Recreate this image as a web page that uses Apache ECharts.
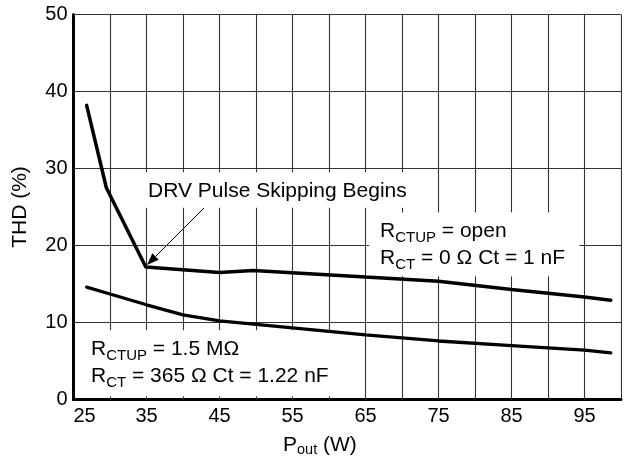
<!DOCTYPE html>
<html>
<head>
<meta charset="utf-8">
<script src="https://cdn.jsdelivr.net/npm/echarts@6/dist/echarts.min.js"></script>
<style>
html,body{margin:0;padding:0;background:#fff;}
#c{width:624px;height:457px;}
</style>
</head>
<body>
<div id="c"></div>
<script>
// Data
const xOpen = [26.8, 29.5, 34.9, 45, 49.6, 65, 75, 85, 95, 98.6];
const thdOpen = [38.2, 27.5, 17.2, 16.5, 16.75, 15.9, 15.35, 14.3, 13.3, 12.9];
const xMeg = [26.8, 30, 35, 40, 45, 55, 65, 75, 85, 95, 98.6];
const thdMeg = [14.6, 13.7, 12.3, 11.0, 10.2, 9.3, 8.4, 7.6, 7.0, 6.4, 6.05];
const xTickLabels = [25, 35, 45, 55, 65, 75, 85, 95];
const yTickLabels = [0, 10, 20, 30, 40, 50];
const xGrid = [30, 35, 40, 45, 50, 55, 60, 65, 70, 75, 80, 85, 90, 95, 100];
const yGrid = [10, 20, 30, 40, 50];
const noteSkip = 'DRV Pulse Skipping Begins';
const noteOpen = 'R{s|CTUP} = open\nR{s|CT} = 0 Ω Ct = 1 nF';
const noteMeg = 'R{s|CTUP} = 1.5 MΩ\nR{s|CT} = 365 Ω Ct = 1.22 nF';

const X_MIN = 25, X_MAX = 100, Y_MIN = 0, Y_MAX = 50;
// clear areas behind the annotations (x0, x1, y0, y1 in axis units)
const clearBoxes = [[34.0, 72.4, 24.9, 29.5], [65.5, 94.3, 16.0, 24.3], [26.1, 61.4, 0.4, 9.0]];

const FONT = '"Liberation Sans", Arial, Helvetica, sans-serif';
const chart = echarts.init(document.getElementById('c'));

function pairs(xs, ys) { return xs.map((x, i) => [x, ys[i]]); }

function cut(lo, hi, gaps) {
  gaps.sort((a, b) => a[0] - b[0]);
  const out = [];
  let s = lo;
  gaps.forEach(g => { if (g[0] > s) out.push([s, g[0]]); s = Math.max(s, g[1]); });
  if (s < hi) out.push([s, hi]);
  return out;
}
const gridSegs = [];
xGrid.forEach(x => {
  const gaps = clearBoxes.filter(b => x > b[0] && x < b[1]).map(b => [b[2], b[3]]);
  cut(Y_MIN, Y_MAX, gaps).forEach(s => gridSegs.push({coords: [[x, s[0]], [x, s[1]]]}));
});
yGrid.forEach(y => {
  const gaps = clearBoxes.filter(b => y > b[2] && y < b[3]).map(b => [b[0], b[1]]);
  cut(X_MIN, X_MAX, gaps).forEach(s => gridSegs.push({coords: [[s[0], y], [s[1], y]]}));
});

const sub = {fontSize: 15, fontFamily: FONT, fill: '#000', lineHeight: 18, verticalAlign: 'bottom'};

const tail = [204, 208], tip = [147, 265];
const ang = Math.atan2(tip[1] - tail[1], tip[0] - tail[0]);
const aL = 12, aW = 4.5;
const base = [tip[0] - aL * Math.cos(ang), tip[1] - aL * Math.sin(ang)];
const headPts = [
  tip,
  [base[0] + aW * Math.sin(ang), base[1] - aW * Math.cos(ang)],
  [base[0] - aW * Math.sin(ang), base[1] + aW * Math.cos(ang)]
];

chart.setOption({
  animation: false,
  grid: {left: 73.5, top: 14.5, right: 2, bottom: 57.5},
  xAxis: {
    type: 'value', min: X_MIN, max: X_MAX, interval: 5,
    axisLine: {show: true, lineStyle: {color: '#000', width: 3}},
    axisTick: {show: false},
    splitLine: {show: false},
    axisLabel: {
      fontSize: 20, fontFamily: FONT, color: '#000', margin: 7,
      formatter: v => v === xTickLabels[0] ? '    ' + v : (xTickLabels.indexOf(v) >= 0 ? String(v) : '')
    }
  },
  yAxis: {
    type: 'value', min: Y_MIN, max: Y_MAX, interval: 10,
    axisLine: {show: true, lineStyle: {color: '#000', width: 3}},
    axisTick: {show: false},
    splitLine: {show: false},
    axisLabel: {
      fontSize: 20, fontFamily: FONT, color: '#000', margin: 6,
      formatter: v => yTickLabels.indexOf(v) >= 0 ? String(v) : ''
    }
  },
  series: [
    {type: 'lines', coordinateSystem: 'cartesian2d', silent: true, z: 1,
     lineStyle: {color: '#333', width: 1.1, opacity: 1, curveness: 0},
     data: gridSegs},
    {type: 'line', data: pairs(xOpen, thdOpen), showSymbol: false, symbol: 'none', z: 3,
     lineStyle: {color: '#000', width: 3.5, cap: 'round'}},
    {type: 'line', data: pairs(xMeg, thdMeg), showSymbol: false, symbol: 'none', z: 3,
     lineStyle: {color: '#000', width: 3.3, cap: 'round'}}
  ],
  graphic: {elements: [
    {type: 'text', x: 148, y: 181,
     style: {text: noteSkip, fontSize: 21, fontFamily: FONT, fill: '#000', lineHeight: 21}},
    {type: 'text', x: 380, y: 218,
     style: {text: noteOpen, fontSize: 21, fontFamily: FONT, fill: '#000', lineHeight: 27, rich: {s: sub}}},
    {type: 'text', x: 91, y: 336,
     style: {text: noteMeg, fontSize: 21, fontFamily: FONT, fill: '#000', lineHeight: 27, rich: {s: sub}}},
    {type: 'line', shape: {x1: tail[0], y1: tail[1], x2: base[0], y2: base[1]},
     style: {stroke: '#000', lineWidth: 1}},
    {type: 'polygon', shape: {points: headPts}, style: {fill: '#000'}},
    {type: 'text', x: 283, y: 433,
     style: {text: 'P{s|out} (W)', fontSize: 21, fontFamily: FONT, fill: '#000', lineHeight: 24,
             rich: {s: {fontSize: 14.5, fontFamily: FONT, lineHeight: 14, verticalAlign: 'bottom'}}}},
    {type: 'text', x: 20, y: 207, rotation: Math.PI / 2,
     style: {text: 'THD (%)', fontSize: 21, fontFamily: FONT, fill: '#000', align: 'center', verticalAlign: 'middle'}}
  ]}
});
</script>
</body>
</html>
